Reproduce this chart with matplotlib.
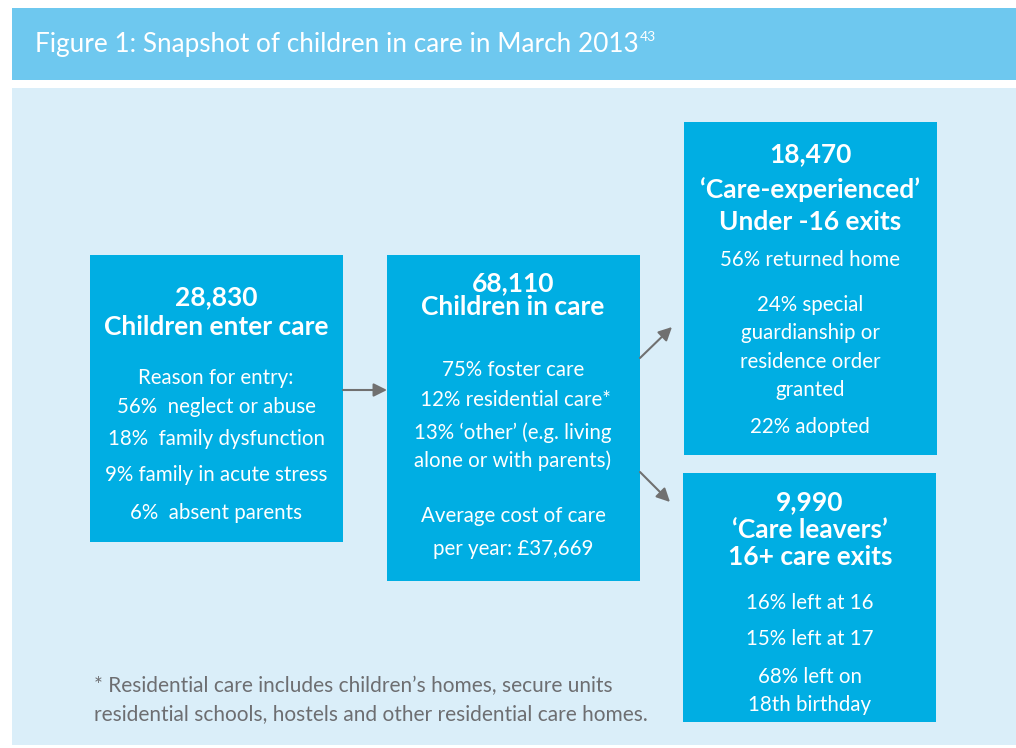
import matplotlib.pyplot as plt
import matplotlib.patches as patches

plt.rcParams['font.family'] = ['Lato', 'DejaVu Sans']

title = "Figure 1: Snapshot of children in care in March 2013"
title_note = "43"

box_numbers = ["28,830", "68,110", "18,470", "9,990"]
box_headings = [
    ["Children enter care"],
    ["Children in care"],
    ["\u2018Care-experienced\u2019", "Under -16 exits"],
    ["\u2018Care leavers\u2019", "16+ care exits"],
]
box_lines = [
    ["Reason for entry:", "56%  neglect or abuse", "18%  family dysfunction",
     "9% family in acute stress", "6%  absent parents"],
    ["75% foster care", " 12% residential care*", "13% \u2018other\u2019 (e.g. living",
     "alone or with parents)", "Average cost of care", "per year: \u00a337,669"],
    ["56% returned home", "24% special", "guardianship or", "residence order",
     "granted", "22% adopted"],
    ["16% left at 16", "15% left at 17", "68% left on", "18th birthday"],
]
footnote = ["* Residential care includes children\u2019s homes, secure units",
            "residential schools, hostels and other residential care homes."]

# layout (pixel space)
boxes = [(90, 255, 253, 287), (387, 255, 253, 326), (684, 122, 253, 333), (683, 473, 253, 249)]
head_y = [[297, 327], [283, 307], [154, 190, 222], [502, 530, 557]]
line_y = [[378, 407, 439, 475, 513],
          [370, 400, 433, 461, 516, 549],
          [260, 305, 333, 362, 390, 427],
          [603, 639, 677, 705]]
centers = [216, 513, 810, 810]

box_col = "#00AEE3"
panel_col = "#DAEEF9"
band_col = "#6EC8EF"
arrow_col = "#707070"

fig = plt.figure(figsize=(10.16, 7.48), dpi=100)
ax = fig.add_axes([0, 0, 1, 1])
ax.set_xlim(0, 1016)
ax.set_ylim(748, 0)
ax.axis("off")

ax.add_patch(patches.Rectangle((12, 8), 1004, 72, facecolor=band_col, edgecolor="none"))
ax.add_patch(patches.Rectangle((12, 88), 1004, 657, facecolor=panel_col, edgecolor="none"))
t = ax.text(35, 44, title, color="white", fontsize=18.8, va="center", ha="left")

# superscript right after the title text
fig.canvas.draw()
bb = t.get_window_extent().transformed(ax.transData.inverted())
ax.text(bb.x1 + 1, 37, title_note, color="white", fontsize=10, va="center", ha="left")

for i, (x, y, w, h) in enumerate(boxes):
    ax.add_patch(patches.Rectangle((x, y), w, h, facecolor=box_col, edgecolor="none"))
    heads = [box_numbers[i]] + box_headings[i]
    for s, yy in zip(heads, head_y[i]):
        ax.text(centers[i], yy, s, color="white", fontsize=19, fontweight="bold",
                ha="center", va="center")
    for s, yy in zip(box_lines[i], line_y[i]):
        ax.text(centers[i], yy, s, color="white", fontsize=14.8,
                ha="center", va="center")

arrows = [((343, 390), (387, 390)), ((640, 358), (672, 327)), ((640, 472), (670, 502))]
for a, b in arrows:
    ax.annotate("", xy=b, xytext=a,
                arrowprops=dict(arrowstyle="-|>", color=arrow_col, lw=1.5, mutation_scale=20,
                                shrinkA=0, shrinkB=0))

for s, yy in zip(footnote, [686, 714]):
    ax.text(94, yy, s, color="#6D6E71", fontsize=15, ha="left", va="center")

fig.savefig("out.png", dpi=100)
